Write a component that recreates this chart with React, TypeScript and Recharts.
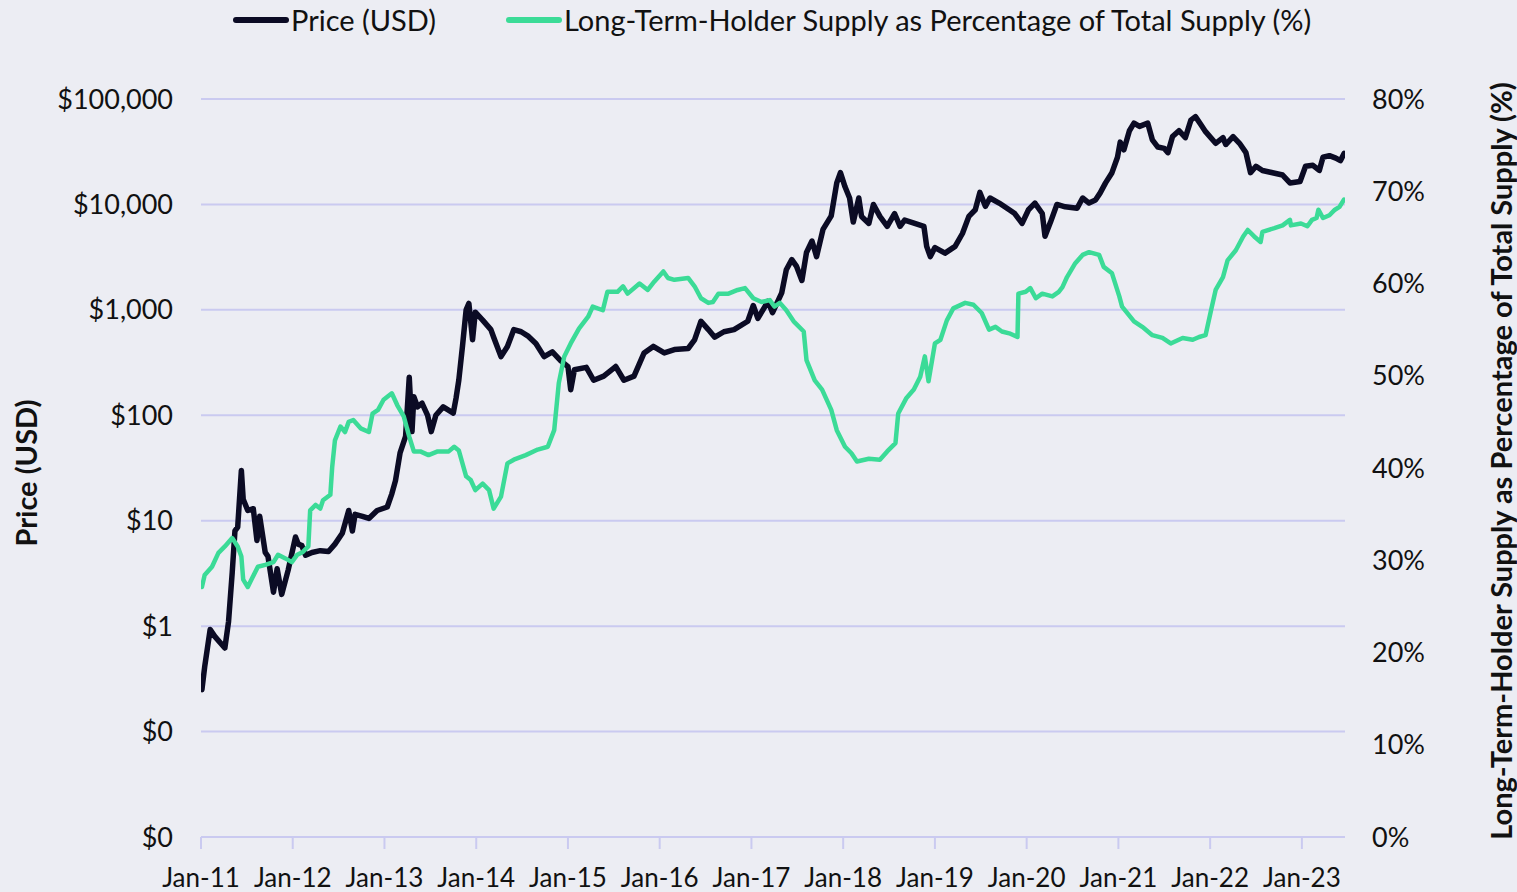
import React from 'react';
import { LineChart, Line, XAxis, YAxis, CartesianGrid, Legend } from 'recharts';

const FONT = 'Lato, "Noto Sans", sans-serif';
const BG = '#ECEDF3';
const GRID = '#CACAF0';
const PRICE_COLOR = '#0B0B24';
const LTH_COLOR = '#3BDB97';
const TEXT = '#111111';

// Decimal-year dates
const priceDates = [
  2011.01, 2011.04, 2011.10, 2011.15, 2011.26, 2011.30, 2011.34, 2011.37, 2011.40, 2011.44,
  2011.46, 2011.51, 2011.57, 2011.61, 2011.64, 2011.70, 2011.73, 2011.79, 2011.83, 2011.88,
  2011.95, 2012.03, 2012.06, 2012.10, 2012.14, 2012.21, 2012.30, 2012.39, 2012.46, 2012.54,
  2012.61, 2012.65, 2012.68, 2012.76, 2012.83, 2012.92, 2013.03, 2013.08, 2013.12, 2013.17,
  2013.23, 2013.27, 2013.30, 2013.32, 2013.36, 2013.41, 2013.47, 2013.51, 2013.56, 2013.64,
  2013.75, 2013.78, 2013.81, 2013.85, 2013.89, 2013.92, 2013.96, 2013.99, 2014.07, 2014.16,
  2014.19, 2014.27, 2014.34, 2014.41, 2014.49, 2014.57, 2014.65, 2014.74, 2014.83, 2014.92,
  2015.00, 2015.03, 2015.07, 2015.20, 2015.28, 2015.39, 2015.52, 2015.61, 2015.72, 2015.83,
  2015.93, 2016.05, 2016.16, 2016.31, 2016.38, 2016.45, 2016.53, 2016.60, 2016.70, 2016.81,
  2016.96, 2017.02, 2017.07, 2017.14, 2017.18, 2017.23, 2017.33, 2017.38, 2017.44, 2017.49,
  2017.55, 2017.60, 2017.66, 2017.71, 2017.78, 2017.87, 2017.93, 2017.97, 2018.02, 2018.07,
  2018.11, 2018.17, 2018.20, 2018.28, 2018.33, 2018.40, 2018.48, 2018.56, 2018.62, 2018.67,
  2018.78, 2018.88, 2018.91, 2018.95, 2019.00, 2019.11, 2019.22, 2019.30, 2019.37, 2019.44,
  2019.49, 2019.55, 2019.60, 2019.70, 2019.81, 2019.87, 2019.95, 2020.02, 2020.09, 2020.17,
  2020.20, 2020.26, 2020.33, 2020.42, 2020.55, 2020.61, 2020.68, 2020.75, 2020.80, 2020.86,
  2020.93, 2020.99, 2021.02, 2021.06, 2021.12, 2021.17, 2021.23, 2021.32, 2021.37, 2021.43,
  2021.50, 2021.54, 2021.59, 2021.66, 2021.73, 2021.79, 2021.84, 2021.90, 2021.95, 2022.06,
  2022.14, 2022.17, 2022.25, 2022.32, 2022.39, 2022.44, 2022.50, 2022.57, 2022.68, 2022.79,
  2022.87, 2022.98, 2023.04, 2023.12, 2023.19, 2023.23, 2023.30, 2023.37, 2023.42, 2023.46,
];

const priceValues = [
  0.25, 0.41, 0.93, 0.8, 0.62, 1.1, 3.2, 8, 8.7, 30,
  16, 12.5, 13, 6.5, 11, 5, 4.6, 2.1, 3.5, 2,
  3.4, 7, 6, 5.8, 4.7, 5, 5.2, 5.1, 6, 7.6,
  12.5, 8, 11.5, 11, 10.5, 12.5, 13.5, 18, 24, 44,
  63, 230, 70, 150, 120, 130, 100, 70, 100, 120,
  105, 145, 215, 450, 1000, 1150, 520, 950, 800, 650,
  550, 360, 450, 650, 620, 560, 480, 360, 400, 330,
  290, 175, 270, 285, 215, 235, 290, 215, 235, 390,
  450, 390, 420, 430, 520, 780, 650, 550, 620, 650,
  780, 1100, 830, 1050, 1200, 940, 1450, 2400, 3000, 2600,
  1900, 3500, 4500, 3200, 5800, 7800, 16000, 20000, 14700, 11500,
  6800, 11500, 7700, 6600, 10000, 7700, 6200, 8200, 6200, 7100,
  6600, 6200, 4000, 3200, 3900, 3450, 4000, 5300, 7700, 8900,
  13000, 9600, 11500, 10300, 8900, 8200, 6600, 8900, 10300, 8200,
  5000, 6800, 10000, 9500, 9200, 11500, 10300, 11000, 12800, 16000,
  20000, 28000, 39000, 33000, 50000, 59000, 55000, 59000, 41000, 35000,
  34000, 31000, 44000, 50000, 43000, 63000, 68000, 57000, 49000, 38000,
  43000, 37000, 44000, 38000, 31000, 20000, 23000, 21000, 20000, 19000,
  16000, 16500, 23000, 23500, 21000, 28000, 29000, 27500, 26000, 30500,
];

const lthDates = [
  2011.01, 2011.04, 2011.12, 2011.19, 2011.26, 2011.34, 2011.40, 2011.44, 2011.46, 2011.51,
  2011.55, 2011.62, 2011.70, 2011.79, 2011.84, 2011.92, 2011.99, 2012.05, 2012.11, 2012.17,
  2012.19, 2012.25, 2012.30, 2012.33, 2012.41, 2012.43, 2012.46, 2012.52, 2012.57, 2012.61,
  2012.66, 2012.74, 2012.83, 2012.87, 2012.93, 2012.99, 2013.08, 2013.14, 2013.21, 2013.27,
  2013.32, 2013.39, 2013.48, 2013.58, 2013.70, 2013.76, 2013.81, 2013.89, 2013.94, 2013.99,
  2014.07, 2014.14, 2014.19, 2014.27, 2014.34, 2014.41, 2014.54, 2014.67, 2014.78, 2014.85,
  2014.90, 2014.96, 2015.03, 2015.12, 2015.22, 2015.27, 2015.38, 2015.43, 2015.54, 2015.60,
  2015.65, 2015.78, 2015.87, 2015.94, 2016.04, 2016.09, 2016.16, 2016.31, 2016.38, 2016.45,
  2016.53, 2016.58, 2016.64, 2016.75, 2016.85, 2016.93, 2017.02, 2017.11, 2017.20, 2017.25,
  2017.31, 2017.38, 2017.46, 2017.57, 2017.60, 2017.69, 2017.77, 2017.87, 2017.93, 2018.02,
  2018.09, 2018.15, 2018.28, 2018.40, 2018.48, 2018.57, 2018.60, 2018.69, 2018.77, 2018.84,
  2018.89, 2018.93, 2019.00, 2019.06, 2019.13, 2019.20, 2019.33, 2019.42, 2019.51, 2019.59,
  2019.66, 2019.73, 2019.81, 2019.90, 2019.91, 2019.99, 2020.04, 2020.10, 2020.17, 2020.28,
  2020.35, 2020.39, 2020.44, 2020.53, 2020.61, 2020.68, 2020.79, 2020.84, 2020.93, 2021.01,
  2021.04, 2021.17, 2021.26, 2021.37, 2021.48, 2021.57, 2021.70, 2021.81, 2021.88, 2021.95,
  2022.01, 2022.06, 2022.14, 2022.19, 2022.28, 2022.36, 2022.41, 2022.48, 2022.55, 2022.57,
  2022.70, 2022.79, 2022.87, 2022.88, 2022.99, 2023.06, 2023.11, 2023.16, 2023.18, 2023.23,
  2023.30, 2023.36, 2023.41, 2023.46,
];

const lthValues = [
  27.1, 28.4, 29.3, 30.8, 31.5, 32.4, 31.5, 30.4, 27.9, 27.1,
  27.9, 29.3, 29.5, 29.8, 30.6, 30.2, 29.8, 30.6, 30.9, 31.5,
  35.4, 36.0, 35.6, 36.5, 37.1, 40.1, 43.0, 44.5, 43.9, 45.0,
  45.2, 44.3, 43.9, 45.9, 46.3, 47.4, 48.1, 46.8, 45.6, 43.4,
  41.8, 41.8, 41.4, 41.8, 41.8, 42.3, 41.9, 39.1, 38.7, 37.6,
  38.3, 37.6, 35.6, 36.9, 40.5, 40.9, 41.4, 42.0, 42.3, 44.1,
  49.2, 52.1, 53.5, 55.1, 56.4, 57.5, 57.1, 59.1, 59.1, 59.7,
  58.9, 60.0, 59.3, 60.2, 61.3, 60.6, 60.4, 60.6, 59.7, 58.4,
  57.9, 58.0, 58.9, 58.9, 59.3, 59.5, 58.4, 58.0, 58.2, 57.5,
  57.9, 57.1, 55.9, 54.8, 51.7, 49.5, 48.5, 46.3, 44.1, 42.3,
  41.6, 40.7, 41.0, 40.9, 41.8, 42.7, 45.9, 47.6, 48.5, 49.9,
  52.1, 49.4, 53.5, 53.9, 56.0, 57.3, 57.9, 57.7, 56.8, 55.0,
  55.3, 54.8, 54.6, 54.2, 58.9, 59.1, 59.5, 58.4, 58.9, 58.6,
  59.1, 59.6, 60.7, 62.2, 63.1, 63.4, 63.1, 61.8, 61.1, 58.6,
  57.5, 55.9, 55.3, 54.4, 54.1, 53.5, 54.1, 53.9, 54.2, 54.4,
  57.1, 59.3, 60.7, 62.5, 63.6, 65.1, 65.8, 65.1, 64.5, 65.6,
  66.0, 66.3, 66.9, 66.3, 66.5, 66.2, 66.9, 67.1, 68.0, 67.1,
  67.4, 68.0, 68.3, 69.1,
];

const yearTicks = [2011, 2012, 2013, 2014, 2015, 2016, 2017, 2018, 2019, 2020, 2021, 2022, 2023];
const priceTicks = [0.01, 0.1, 1, 10, 100, 1000, 10000, 100000];
const pctTicks = [0, 10, 20, 30, 40, 50, 60, 70, 80];

const PRICE_NAME = 'Price (USD)';
const LTH_NAME = 'Long-Term-Holder Supply as Percentage of Total Supply (%)';
const legendOrder = [PRICE_NAME, LTH_NAME];

const priceData = priceDates.map((t, i) => ({ t, price: priceValues[i] }));
const lthData = lthDates.map((t, i) => ({ t, lth: lthValues[i] }));

const fmtYear = (v: number) => `Jan-${String(v).slice(2)}`;
const fmtPrice = (v: number) => `$${Math.round(v).toLocaleString('en-US')}`;
const fmtPct = (v: number) => `${v}%`;

const yTickStyle = { fontFamily: FONT, fontSize: 27, fill: TEXT };
const xTickStyle = { fontFamily: FONT, fontSize: 26, fill: TEXT };
const titleStyle = { fontFamily: FONT, fontSize: 29, fontWeight: 700, fill: TEXT };

const renderLegend = (props: any) => {
  const payload = [...(props.payload || [])].sort(
    (a: any, b: any) => legendOrder.indexOf(a.value) - legendOrder.indexOf(b.value)
  );
  return (
    <div style={{ display: 'flex', alignItems: 'center', fontFamily: FONT, fontSize: 29, color: TEXT, whiteSpace: 'nowrap' }}>
      {payload.map((entry: any, i: number) => (
        <div key={i} style={{ display: 'flex', alignItems: 'center', marginLeft: i === 0 ? 0 : 69 }}>
          <svg width={58} height={10} style={{ display: 'block' }}>
            <line x1={4} y1={5} x2={54} y2={5} stroke={entry.color} strokeWidth={6} strokeLinecap="round" />
          </svg>
          <span style={{ marginLeft: 1, lineHeight: '30px' }}>{entry.value}</span>
        </div>
      ))}
    </div>
  );
};

export default function App() {
  return (
    <div style={{ position: 'absolute', left: 0, top: 0, width: 1517, height: 892, background: BG, overflow: 'hidden' }}>
      <LineChart width={1517} height={892} margin={{ top: 99, right: 0, bottom: 0, left: 0 }}>
        <CartesianGrid yAxisId="left" vertical={false} stroke={GRID} strokeWidth={2} />
        <XAxis
          dataKey="t"
          type="number"
          domain={[2011, 2023.47]}
          ticks={yearTicks}
          tickFormatter={fmtYear}
          allowDataOverflow
          height={55}
          tick={xTickStyle}
          tickSize={12}
          tickMargin={20}
          axisLine={{ stroke: GRID, strokeWidth: 2 }}
          tickLine={{ stroke: GRID, strokeWidth: 2 }}
        />
        <YAxis
          yAxisId="left"
          scale="log"
          domain={[0.01, 100000]}
          ticks={priceTicks}
          tickFormatter={fmtPrice}
          allowDataOverflow
          width={201}
          axisLine={false}
          tickLine={false}
          tickSize={0}
          tickMargin={28}
          tick={yTickStyle}
          label={{ value: PRICE_NAME, angle: -90, position: 'center', dx: -74, dy: 5, style: titleStyle }}
        />
        <YAxis
          yAxisId="right"
          orientation="right"
          domain={[0, 80]}
          ticks={pctTicks}
          tickFormatter={fmtPct}
          allowDataOverflow
          width={172}
          axisLine={false}
          tickLine={false}
          tickSize={0}
          tickMargin={27}
          tick={yTickStyle}
          label={{ value: LTH_NAME, angle: -90, position: 'center', dx: 71, dy: -7, style: titleStyle }}
        />
        <Legend
          verticalAlign="middle"
          align="center"
          layout="horizontal"
          content={renderLegend}
          wrapperStyle={{ top: 5, left: 232, width: 1280 }}
        />
        <Line
          data={priceData}
          yAxisId="left"
          dataKey="price"
          name={PRICE_NAME}
          stroke={PRICE_COLOR}
          strokeWidth={5.5}
          dot={false}
          activeDot={false}
          strokeLinejoin="round"
          strokeLinecap="round"
          isAnimationActive={false}
        />
        <Line
          data={lthData}
          yAxisId="right"
          dataKey="lth"
          name={LTH_NAME}
          stroke={LTH_COLOR}
          strokeWidth={4.5}
          dot={false}
          activeDot={false}
          strokeLinejoin="round"
          strokeLinecap="round"
          isAnimationActive={false}
        />
      </LineChart>
    </div>
  );
}
